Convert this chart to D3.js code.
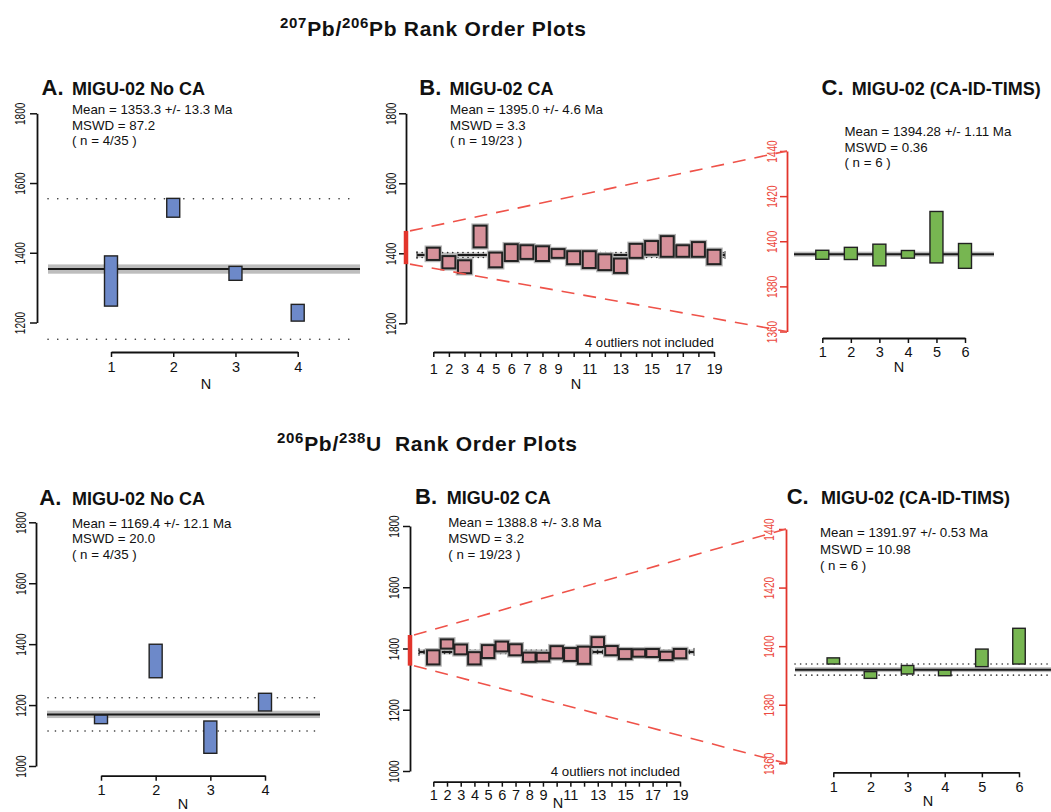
<!DOCTYPE html>
<html><head><meta charset="utf-8">
<script src="https://cdn.jsdelivr.net/npm/d3@7"></script>
<style>
body{margin:0;background:#fff}
svg{display:block;font-family:"Liberation Sans",Arial,Helvetica,sans-serif}
</style></head><body>
<svg id="chart" width="1051" height="812"></svg>
<script>
// ---------------- data ----------------
const yTicksTop = [1200, 1400, 1600, 1800];
const yTicksBottom = [1000, 1200, 1400, 1600, 1800];
const yTicksZoom = [1360, 1380, 1400, 1420, 1440];
const xLabelsA = [1, 2, 3, 4];
const xLabelsB = [1, 2, 3, 4, 5, 6, 7, 8, 9, 11, 13, 15, 17, 19];
const xLabelsC = [1, 2, 3, 4, 5, 6];

// 207Pb/206Pb
const pbpbA_age = [1319, 1529, 1341, 1228];
const pbpbA_err = [72, 27, 20, 24];
const pbpbB_age = [1398.5, 1374.5, 1361.5, 1448, 1381, 1402, 1403.5, 1399, 1399.5, 1387.5, 1382, 1374.5, 1364.5, 1407, 1415.5, 1419.5, 1406.5, 1411, 1389.5];
const pbpbB_err = [17.5, 17.5, 18.5, 31, 21, 24, 19.5, 21, 12.5, 18.5, 24, 22.5, 20.5, 20, 19.5, 29.5, 16.5, 21, 20.5];
const pbpbC_age = [1394.0, 1394.6, 1393.9, 1394.2, 1401.8, 1393.5];
const pbpbC_err = [2.0, 2.7, 4.8, 1.7, 11.4, 5.5];

// 206Pb/238U
const puA_age = [1153, 1344.7, 1094.7, 1209.7];
const puA_err = [14, 55, 53, 29];
const puB_age = [1371, 1414.7, 1397, 1368, 1390, 1406.6, 1395.8, 1371.6, 1372, 1387.6, 1380.4, 1378, 1421, 1393, 1382, 1385.3, 1385.3, 1376, 1383.2];
const puB_err = [23, 15, 16, 20, 21, 16, 18, 15, 14, 20, 21, 28, 16, 15, 16, 12, 13, 13.6, 15.2];
const puC_age = [1394.95, 1390.15, 1391.95, 1390.85, 1396.0, 1400.0];
const puC_err = [1.05, 1.15, 1.45, 0.95, 3.0, 6.1];

// weighted means, errors, spread lines, zoom ranges
const means = { pbA: 1353.3, pbB: 1395.0, pbC: 1394.28, uA: 1169.4, uB: 1388.8, uC: 1391.97 };
const meanErrs = { pbA: 13.3, pbB: 4.6, pbC: 1.11, uA: 12.1, uB: 3.8, uC: 0.53 };
const spreadPbA = [1152, 1555];
const spreadPbB = [1388, 1402];
const spreadUA = [1115, 1224];
const spreadUB = [1383.5, 1394];
const spreadUC = [1390.1, 1393.9];
const zoomRangePb = [1369, 1464];
const zoomRangeU = [1344, 1444];

const statsPbA = ["Mean = 1353.3 +/- 13.3 Ma", "MSWD = 87.2", "( n = 4/35 )"];
const statsPbB = ["Mean = 1395.0 +/- 4.6 Ma", "MSWD = 3.3", "( n = 19/23 )"];
const statsPbC = ["Mean = 1394.28 +/- 1.11 Ma", "MSWD = 0.36", "( n = 6 )"];
const statsUA = ["Mean = 1169.4 +/- 12.1 Ma", "MSWD = 20.0", "( n = 4/35 )"];
const statsUB = ["Mean = 1388.8 +/- 3.8 Ma", "MSWD = 3.2", "( n = 19/23 )"];
const statsUC = ["Mean = 1391.97 +/- 0.53 Ma", "MSWD = 10.98", "( n = 6 )"];

// ---------------- drawing ----------------
const svg = d3.select('#chart');
const RED = '#e2352c', RED_DASH = '#ef5249', RED_TXT = '#ec4a41';
const BLUE = '#6d89c9', PINK = '#d6919a', GREEN = '#77b651';

function mainTitle(parts, x, yb) {
  const t = svg.append('text').attr('x', x).attr('y', yb)
    .attr('font-weight', 'bold').attr('font-size', 21).attr('letter-spacing', 0.7)
    .style('white-space', 'pre').attr('fill', '#111');
  parts.forEach(p => {
    if (p.sup) t.append('tspan').attr('font-size', 15).attr('dy', -8).text(p.t);
    else t.append('tspan').attr('dy', p.after ? 8 : 0).text(p.t);
  });
}
mainTitle([{t:'207',sup:1},{t:'Pb/',after:1},{t:'206',sup:1},{t:'Pb Rank Order Plots',after:1}], 280, 36);
mainTitle([{t:'206',sup:1},{t:'Pb/',after:1},{t:'238',sup:1},{t:'U  Rank Order Plots',after:1}], 277, 451);

function panel(c) {
  const g = svg.append('g');
  const y = d3.scaleLinear().domain(c.domain).range(c.yRange);
  const n = c.age.length;
  const x = d3.scaleLinear().domain([1, n]).range(c.xRange);
  const axCol = c.red ? RED : '#111';

  // titles
  g.append('text').attr('x', c.letterX).attr('y', c.titleY).attr('font-size', 22)
    .attr('font-weight', 'bold').attr('fill', '#111').text(c.letter);
  g.append('text').attr('x', c.nameX).attr('y', c.titleY).attr('font-size', 18)
    .attr('font-weight', 'bold').attr('fill', '#111').text(c.name);
  c.stats.forEach((s, i) => g.append('text').attr('x', c.statsX).attr('y', c.statsY[i])
    .attr('font-size', 13.3).attr('fill', '#111').text(s));

  // mean band
  const bh = Math.max(5, y(c.mean - c.meanErr) - y(c.mean + c.meanErr));
  g.append('rect').attr('x', c.meanX[0]).attr('width', c.meanX[1] - c.meanX[0])
    .attr('y', y(c.mean) - bh / 2).attr('height', bh)
    .attr('fill', '#bdbdbd');
  // dotted spread
  (c.spread || []).forEach(v => g.append('line')
    .attr('x1', c.spreadX[0]).attr('x2', c.spreadX[1]).attr('y1', y(v)).attr('y2', y(v))
    .attr('stroke', '#333').attr('stroke-width', 1.6).attr('stroke-dasharray', c.dots).attr('stroke-linecap', 'round'));
  // mean line
  g.append('line').attr('x1', c.meanX[0]).attr('x2', c.meanX[1]).attr('y1', y(c.mean)).attr('y2', y(c.mean))
    .attr('stroke', '#1a1a1a').attr('stroke-width', 2);
  if (c.caps) c.meanX.forEach(px => g.append('line').attr('x1', px).attr('x2', px)
    .attr('y1', y(c.mean) - 4).attr('y2', y(c.mean) + 4).attr('stroke', '#333').attr('stroke-width', 1));

  // boxes
  const idx = d3.range(n);
  if (c.halo) g.selectAll('rect.halo').data(idx).join('rect').attr('class', 'halo')
    .attr('x', i => x(i + 1) - c.boxW / 2).attr('width', c.boxW)
    .attr('y', i => y(c.age[i] + c.err[i])).attr('height', i => y(c.age[i] - c.err[i]) - y(c.age[i] + c.err[i]))
    .attr('fill', 'none').attr('stroke', '#b5b5b5').attr('stroke-width', 4.5);
  g.selectAll('rect.box').data(idx).join('rect').attr('class', 'box')
    .attr('x', i => x(i + 1) - c.boxW / 2).attr('width', c.boxW)
    .attr('y', i => y(c.age[i] + c.err[i])).attr('height', i => y(c.age[i] - c.err[i]) - y(c.age[i] + c.err[i]))
    .attr('fill', c.color).attr('stroke', '#222').attr('stroke-width', c.boxSW);

  // y axis
  const ya = g.append('g').attr('transform', `translate(${c.yAxisX},0)`)
    .call(d3.axisLeft(y).tickValues(c.yTicks).tickSize(7).tickSizeOuter(0).tickFormat(d3.format('d')));
  ya.select('.domain').attr('stroke', axCol).attr('stroke-width', 1.8);
  ya.selectAll('.tick line').attr('stroke', axCol).attr('stroke-width', 1.5);
  ya.selectAll('.tick text').attr('x', 0).attr('y', 0).attr('dy', 0).attr('text-anchor', 'middle')
    .attr('font-size', 14).attr('font-family', null).attr('fill', c.red ? RED_TXT : '#111')
    .attr('transform', `translate(${-c.labelOff},0) rotate(-90) scale(0.72,1)`);

  // x axis
  const xa = g.append('g').attr('transform', `translate(0,${c.xAxisY})`)
    .call(d3.axisBottom(x).tickValues(d3.range(1, n + 1)).tickSize(5).tickSizeOuter(0)
      .tickFormat(d => c.xLabels.includes(d) ? d : ''));
  xa.select('.domain').attr('stroke', '#111').attr('stroke-width', 1.8);
  xa.selectAll('.tick line').attr('stroke', '#111').attr('stroke-width', 1.5);
  xa.selectAll('.tick text').attr('y', c.xLabDy).attr('dy', 0).attr('font-size', 14.5)
    .attr('font-family', null).attr('fill', '#111');
  g.append('text').attr('x', c.nX).attr('y', c.nY).attr('text-anchor', 'middle')
    .attr('font-size', 14.5).attr('fill', '#111').text('N');
  if (c.outliers) g.append('text').attr('x', c.xRange[1]).attr('y', c.outY).attr('text-anchor', 'end')
    .attr('font-size', 13.3).attr('fill', '#111').text(c.outliers);
  return { y, c };
}

const common = { boxW: 13 };

const pA = panel({ ...common, letter: 'A.', name: 'MIGU-02 No CA', letterX: 41.5, nameX: 72, titleY: 95,
  stats: statsPbA, statsX: 72, statsY: [114, 129.5, 145],
  age: pbpbA_age, err: pbpbA_err, domain: [1200, 1800], yRange: [322.5, 113.3], yTicks: yTicksTop,
  yAxisX: 37, labelOff: 12.5, xRange: [111, 297.7], xAxisY: 352, xLabels: xLabelsA, xLabDy: 19.5, nX: 206, nY: 388.5,
  mean: means.pbA, meanErr: meanErrs.pbA, meanX: [48, 360], spread: spreadPbA, spreadX: [48, 357], dots: '0.1,9.6',
  color: BLUE, boxSW: 1.4 });
const pB = panel({ ...common, letter: 'B.', name: 'MIGU-02 CA', letterX: 419.3, nameX: 449.5, titleY: 95,
  stats: statsPbB, statsX: 450, statsY: [114, 129.5, 145],
  age: pbpbB_age, err: pbpbB_err, domain: [1200, 1800], yRange: [323.3, 113.3], yTicks: yTicksTop,
  yAxisX: 406, labelOff: 10.5, xRange: [433.3, 714], xAxisY: 352, xLabels: xLabelsB, xLabDy: 21.5, nX: 576, nY: 389,
  outliers: '4 outliers not included', outY: 347,
  mean: means.pbB, meanErr: meanErrs.pbB, meanX: [417, 725], spread: spreadPbB, spreadX: [417, 725], dots: '0.1,5',
  caps: true, halo: true, color: PINK, boxSW: 2 });
const pC = panel({ ...common, letter: 'C.', name: 'MIGU-02 (CA-ID-TIMS)', letterX: 821.5, nameX: 851.7, titleY: 95,
  stats: statsPbC, statsX: 844.5, statsY: [136, 151.5, 167],
  age: pbpbC_age, err: pbpbC_err, domain: [1360, 1440], yRange: [331.5, 151], yTicks: yTicksZoom, red: true,
  yAxisX: 787, labelOff: 10, xRange: [822.3, 965], xAxisY: 338, xLabels: xLabelsC, xLabDy: 18.5, nX: 899, nY: 372,
  mean: means.pbC, meanErr: meanErrs.pbC, meanX: [794, 994], spread: [], spreadX: [794, 994], dots: '0.1,5',
  color: GREEN, boxSW: 1.4 });

const uA = panel({ ...common, letter: 'A.', name: 'MIGU-02 No CA', letterX: 39.3, nameX: 72, titleY: 505,
  stats: statsUA, statsX: 72, statsY: [527.7, 543.3, 558.5],
  age: puA_age, err: puA_err, domain: [1000, 1800], yRange: [766, 522.3], yTicks: yTicksBottom,
  yAxisX: 36, labelOff: 10.5, xRange: [101, 265], xAxisY: 775.7, xLabels: xLabelsA, xLabDy: 19.5, nX: 183, nY: 808.5,
  mean: means.uA, meanErr: meanErrs.uA, meanX: [47, 320], spread: spreadUA, spreadX: [48, 320], dots: '0.1,7.3',
  color: BLUE, boxSW: 1.4 });
const uB = panel({ ...common, letter: 'B.', name: 'MIGU-02 CA', letterX: 415, nameX: 446.7, titleY: 503.5,
  stats: statsUB, statsX: 448.3, statsY: [526.7, 543, 558.5],
  age: puB_age, err: puB_err, domain: [1000, 1800], yRange: [771, 526], yTicks: yTicksBottom,
  yAxisX: 410, labelOff: 11, xRange: [433.3, 680], xAxisY: 781.7, xLabels: xLabelsB, xLabDy: 18.5, nX: 558, nY: 808,
  outliers: '4 outliers not included', outY: 776,
  mean: means.uB, meanErr: meanErrs.uB, meanX: [419, 694], spread: spreadUB, spreadX: [419, 694], dots: '0.1,5',
  caps: true, halo: true, color: PINK, boxSW: 2, boxW: 12.5 });
const uC = panel({ ...common, letter: 'C.', name: 'MIGU-02 (CA-ID-TIMS)', letterX: 786.7, nameX: 821, titleY: 504,
  stats: statsUC, statsX: 820, statsY: [537.3, 554, 569.5],
  age: puC_age, err: puC_err, domain: [1360, 1440], yRange: [763.3, 529], yTicks: yTicksZoom, red: true,
  yAxisX: 786, labelOff: 12, xRange: [833.3, 1019], xAxisY: 772.3, xLabels: xLabelsC, xLabDy: 19.5, nX: 928, nY: 805.5,
  mean: means.uC, meanErr: meanErrs.uC, meanX: [795, 1051], spread: spreadUC, spreadX: [795, 1051], dots: '0.1,5.5',
  color: GREEN, boxSW: 1.4, boxW: 12.5 });

// zoom brackets and connectors
function zoomLink(b, z, range) {
  const g = svg.append('g');
  const bx = b.c.yAxisX, zx = z.c.yAxisX;
  const zd = z.c.domain;
  [[range[1], zd[1]], [range[0], zd[0]]].forEach(([vb, vz]) => {
    g.append('line').attr('x1', bx + 4).attr('y1', b.y(vb)).attr('x2', zx).attr('y2', z.y(vz))
      .attr('stroke', RED_DASH).attr('stroke-width', 1.6).attr('stroke-dasharray', '13,9');
  });
  g.append('line').attr('x1', bx).attr('x2', bx).attr('y1', b.y(range[0])).attr('y2', b.y(range[1]))
    .attr('stroke', RED).attr('stroke-width', 4.5);
}
zoomLink(pB, pC, zoomRangePb);
zoomLink(uB, uC, zoomRangeU);
</script>
</body></html>
